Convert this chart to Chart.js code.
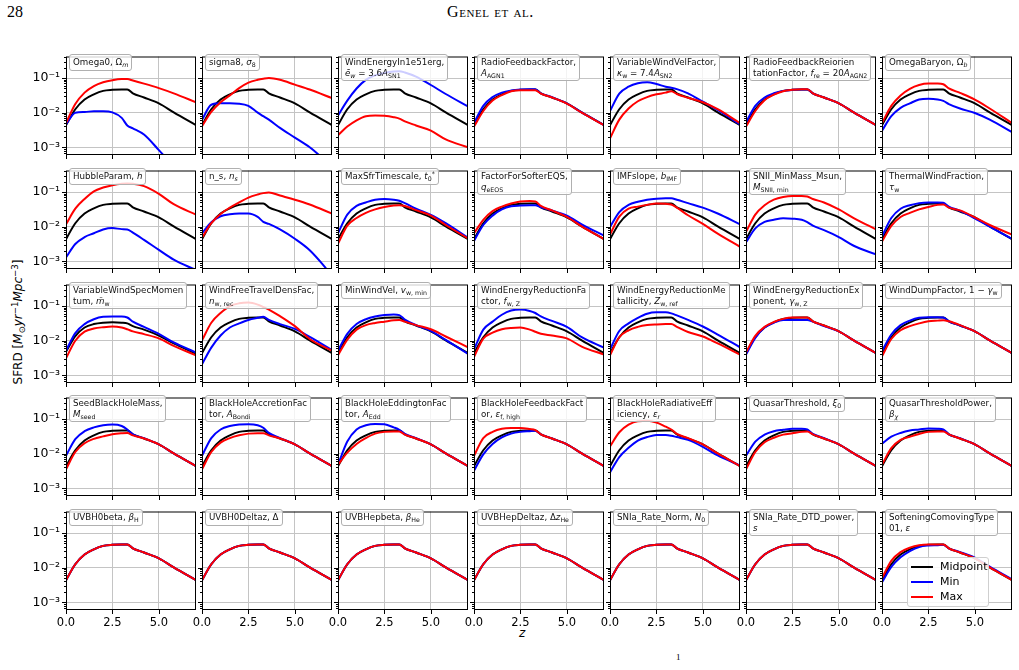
<!DOCTYPE html>
<html>
<head>
<meta charset="utf-8">
<script src="https://cdn.jsdelivr.net/npm/chart.js@4.4.1/dist/chart.umd.min.js"></script>
<style>
  body { margin: 0; background: #fff; }
  #fig { position: relative; width: 1019px; height: 670px; overflow: hidden; font-family: "DejaVu Sans", sans-serif; color: #000; }
  #fig canvas { position: absolute; }
  .tag {
    position: absolute; z-index: 5; font-size: 8.7px; line-height: 10.5px; color: #111;
    padding: 2px 3px 2px 3px; border: 1px solid #b0b0b0; border-radius: 3px;
    background: rgba(255,255,255,0.8); white-space: nowrap;
  }
  .tag sub, .ylab sub { font-size: 0.72em; vertical-align: -0.3em; line-height: 0; }
  .tag sup, .ylab sup { font-size: 0.72em; vertical-align: 0.5em; line-height: 0; }
  .ylab { position: absolute; left: 18px; top: 322px; transform: translate(-50%, -50%) rotate(-90deg); font-size: 12px; white-space: nowrap; }
  .xlab { position: absolute; left: 519px; top: 626px; font-size: 12px; font-style: italic; }
  .head { position: absolute; font-family: "Liberation Serif", serif; font-size: 16px; color: #000; }
  #legend { position: absolute; z-index: 6; left: 907px; top: 557px; width: 80px; height: 48px; border: 1px solid #cfcfcf; border-radius: 3px; background: rgba(255,255,255,0.85); font-size: 11px; }
  #legend div { position: absolute; left: 3px; height: 14px; line-height: 14px; }
  #legend span.sw { display: inline-block; width: 22px; height: 2px; vertical-align: middle; margin-right: 7px; }
</style>
</head>
<body>
<div id="fig">
  <div class="head" style="left:7px; top:3px;">28</div>
  <div class="head" style="left:447px; top:3px; font-variant: small-caps; letter-spacing: 0.6px;">Genel et al.</div>
  <div class="head" style="left:676px; top:652px; font-size:9px;">1</div>
  <div class="ylab">SFRD [<i>M</i><sub>⊙</sub><i>yr</i><sup>−1</sup><i>Mpc</i><sup>−3</sup>]</div>
  <div class="xlab">z</div>
  <div id="legend">
    <div style="top:2px;"><span class="sw" style="background:#000"></span>Midpoint</div>
    <div style="top:17px;"><span class="sw" style="background:#0000ff"></span>Min</div>
    <div style="top:32px;"><span class="sw" style="background:#ff0000"></span>Max</div>
  </div>
</div>
<script>
// redshift sample points, shared by every panel
const redshift = [0, 0.5, 1, 1.5, 2, 2.5, 3, 3.3, 3.6, 4.2, 5, 5.8, 7];

// fiducial run (black in nearly every panel)
const midpoint = [4.37e-3, 1.26e-2, 2.40e-2, 3.39e-2, 4.27e-2, 4.57e-2, 4.68e-2, 4.68e-2, 3.63e-2, 2.75e-2, 1.86e-2, 1.02e-2, 4.37e-3];
const windSpecMomMid = [4.79e-3, 1.35e-2, 2.40e-2, 3.02e-2, 3.31e-2, 3.39e-2, 3.31e-2, 3.16e-2, 2.63e-2, 2.09e-2, 1.41e-2, 8.32e-3, 4.17e-3];

// row 1
const omega0Min = [4.57e-3, 1.0e-2, 1.05e-2, 1.10e-2, 1.10e-2, 1.02e-2, 7.08e-3, 4.27e-3, 3.55e-3, 2.34e-3, 8.3e-4, 2.8e-4, 5e-5];
const omega0Max = [5.0e-3, 1.78e-2, 3.80e-2, 5.89e-2, 7.59e-2, 8.71e-2, 9.33e-2, 9.33e-2, 8.51e-2, 6.92e-2, 5.13e-2, 3.63e-2, 2.0e-2];
const sigma8Min = [6.17e-3, 1.70e-2, 1.86e-2, 1.86e-2, 1.82e-2, 1.58e-2, 1.0e-2, 7.94e-3, 6.31e-3, 3.63e-3, 1.91e-3, 1.0e-3, 2.8e-4];
const sigma8Max = [4.07e-3, 1.05e-2, 2.0e-2, 3.16e-2, 5.13e-2, 7.41e-2, 8.91e-2, 9.55e-2, 0.1, 8.91e-2, 6.46e-2, 4.68e-2, 2.63e-2];
const windEnergyMin = [8.32e-3, 2.24e-2, 5.01e-2, 8.91e-2, 0.120, 0.141, 0.155, 0.158, 0.145, 0.110, 6.31e-2, 3.47e-2, 1.51e-2];
const windEnergyMax = [2.24e-3, 3.98e-3, 6.03e-3, 7.94e-3, 8.32e-3, 8.13e-3, 7.41e-3, 6.76e-3, 5.62e-3, 4.27e-3, 3.02e-3, 1.70e-3, 1.0e-3];
const radioFbMin = [5.01e-3, 1.58e-2, 2.82e-2, 3.80e-2, 4.37e-2, 4.68e-2, 4.79e-2, 4.79e-2, 3.63e-2, 2.82e-2, 1.86e-2, 1.02e-2, 4.37e-3];
const radioFbMax = [3.98e-3, 1.12e-2, 2.24e-2, 3.24e-2, 4.17e-2, 4.47e-2, 4.47e-2, 4.47e-2, 3.55e-2, 2.75e-2, 1.82e-2, 1.0e-2, 4.37e-3];
const windVelMin = [1.12e-2, 3.55e-2, 5.62e-2, 7.08e-2, 7.59e-2, 6.76e-2, 5.62e-2, 5.25e-2, 4.79e-2, 3.63e-2, 2.09e-2, 1.20e-2, 4.57e-3];
const windVelMax = [1.82e-3, 6.31e-3, 1.32e-2, 2.14e-2, 2.82e-2, 3.39e-2, 3.80e-2, 4.17e-2, 3.47e-2, 2.69e-2, 2.0e-2, 1.26e-2, 5.01e-3];
const reorientMin = [5.25e-3, 1.58e-2, 2.75e-2, 3.63e-2, 4.27e-2, 4.57e-2, 4.68e-2, 4.68e-2, 3.63e-2, 2.75e-2, 1.86e-2, 1.02e-2, 4.37e-3];
const reorientMax = [3.98e-3, 1.12e-2, 2.29e-2, 3.31e-2, 4.17e-2, 4.57e-2, 4.79e-2, 4.79e-2, 3.63e-2, 2.75e-2, 1.86e-2, 1.02e-2, 4.37e-3];
const omegaBMin = [3.02e-3, 7.94e-3, 1.38e-2, 1.86e-2, 2.40e-2, 2.51e-2, 2.40e-2, 2.19e-2, 1.78e-2, 1.32e-2, 9.77e-3, 6.31e-3, 2.75e-3];
const omegaBMax = [5.01e-3, 1.58e-2, 3.16e-2, 4.90e-2, 6.31e-2, 6.92e-2, 6.92e-2, 6.61e-2, 5.01e-2, 3.72e-2, 2.40e-2, 1.32e-2, 5.01e-3];

// row 2
const hubbleMin = [1.29e-3, 3.16e-3, 5.01e-3, 6.46e-3, 8.32e-3, 9.12e-3, 8.51e-3, 8.32e-3, 6.76e-3, 4.17e-3, 2.14e-3, 1.12e-3, 5.6e-4];
const hubbleMax = [1.17e-2, 3.31e-2, 6.31e-2, 0.105, 0.135, 0.158, 0.174, 0.178, 0.174, 0.148, 8.91e-2, 4.47e-2, 2.24e-2];
const nsMin = [6.46e-3, 1.35e-2, 2.0e-2, 2.29e-2, 2.40e-2, 2.40e-2, 1.91e-2, 1.38e-2, 1.20e-2, 8.32e-3, 4.47e-3, 2.09e-3, 4.0e-4];
const nsMax = [4.79e-3, 1.26e-2, 2.34e-2, 3.55e-2, 5.01e-2, 6.92e-2, 8.51e-2, 9.33e-2, 9.77e-2, 7.94e-2, 6.03e-2, 4.37e-2, 2.40e-2];
const maxSfrMin = [6.46e-3, 2.24e-2, 3.98e-2, 5.01e-2, 6.03e-2, 6.31e-2, 6.03e-2, 5.62e-2, 4.79e-2, 3.31e-2, 2.19e-2, 1.26e-2, 4.79e-3];
const maxSfrMax = [3.24e-3, 1.07e-2, 1.78e-2, 2.51e-2, 3.16e-2, 3.72e-2, 4.07e-2, 4.17e-2, 3.98e-2, 3.02e-2, 2.09e-2, 1.12e-2, 4.57e-3];
const softerEosMin = [3.89e-3, 1.12e-2, 2.09e-2, 3.16e-2, 3.89e-2, 4.07e-2, 4.17e-2, 4.17e-2, 3.63e-2, 2.95e-2, 2.09e-2, 1.17e-2, 5.50e-3];
const softerEosMax = [6.46e-3, 1.58e-2, 2.82e-2, 3.80e-2, 4.68e-2, 5.37e-2, 5.50e-2, 5.37e-2, 3.98e-2, 2.95e-2, 1.91e-2, 1.02e-2, 4.37e-3];
const imfMin = [9.77e-3, 2.63e-2, 4.27e-2, 5.25e-2, 6.03e-2, 6.46e-2, 6.61e-2, 6.61e-2, 6.03e-2, 4.79e-2, 3.55e-2, 2.40e-2, 1.17e-2];
const imfMax = [5.89e-3, 1.95e-2, 3.31e-2, 3.80e-2, 4.27e-2, 4.68e-2, 4.57e-2, 4.37e-2, 3.55e-2, 2.14e-2, 1.20e-2, 6.31e-3, 2.63e-3];
const snIIMin = [3.55e-3, 8.91e-3, 1.38e-2, 1.58e-2, 1.74e-2, 1.70e-2, 1.58e-2, 1.35e-2, 1.07e-2, 7.94e-3, 5.01e-3, 2.82e-3, 1.58e-3];
const snIIMax = [7.08e-3, 2.24e-2, 4.17e-2, 6.03e-2, 7.24e-2, 7.76e-2, 7.76e-2, 7.41e-2, 6.31e-2, 5.01e-2, 3.16e-2, 1.78e-2, 8.32e-3];
const thermalWindMin = [5.25e-3, 1.78e-2, 3.31e-2, 4.17e-2, 4.79e-2, 5.01e-2, 5.01e-2, 4.90e-2, 3.80e-2, 2.88e-2, 1.74e-2, 1.0e-2, 4.47e-3];
const thermalWindMax = [3.72e-3, 1.05e-2, 1.91e-2, 2.51e-2, 3.16e-2, 3.72e-2, 4.27e-2, 4.37e-2, 3.55e-2, 2.95e-2, 1.86e-2, 1.12e-2, 5.89e-3];

// row 3
const windSpecMomMin = [5.13e-3, 1.66e-2, 3.02e-2, 4.17e-2, 4.90e-2, 5.01e-2, 5.01e-2, 4.68e-2, 3.55e-2, 2.51e-2, 1.58e-2, 8.91e-3, 4.57e-3];
const windSpecMomMax = [3.09e-3, 1.0e-2, 1.82e-2, 2.24e-2, 2.45e-2, 2.57e-2, 2.40e-2, 2.14e-2, 1.86e-2, 1.55e-2, 1.17e-2, 7.08e-3, 3.80e-3];
const windFreeMin = [2.09e-3, 6.31e-3, 1.41e-2, 2.40e-2, 3.16e-2, 3.98e-2, 4.57e-2, 4.90e-2, 3.98e-2, 3.02e-2, 2.19e-2, 1.29e-2, 5.37e-3];
const windFreeMax = [1.02e-2, 3.31e-2, 6.31e-2, 0.1, 0.120, 0.126, 0.110, 9.33e-2, 7.94e-2, 5.13e-2, 2.63e-2, 1.12e-2, 5.13e-3];
const minWindVelMin = [5.13e-3, 1.58e-2, 3.02e-2, 4.17e-2, 5.01e-2, 5.50e-2, 5.75e-2, 5.50e-2, 4.07e-2, 2.82e-2, 1.91e-2, 1.05e-2, 4.17e-3];
const minWindVelMax = [3.80e-3, 1.07e-2, 2.09e-2, 2.82e-2, 3.24e-2, 3.55e-2, 3.89e-2, 3.98e-2, 3.55e-2, 2.82e-2, 2.14e-2, 1.32e-2, 6.46e-3];
const windRedFacMin = [5.62e-3, 2.09e-2, 3.55e-2, 5.62e-2, 7.41e-2, 7.94e-2, 7.24e-2, 6.31e-2, 5.01e-2, 3.72e-2, 2.51e-2, 1.26e-2, 6.31e-3];
const windRedFacMax = [3.39e-3, 1.15e-2, 1.70e-2, 2.14e-2, 2.34e-2, 2.40e-2, 2.09e-2, 1.82e-2, 1.58e-2, 1.41e-2, 1.17e-2, 6.76e-3, 3.98e-3];
const windRedMetMin = [5.62e-3, 1.91e-2, 3.16e-2, 4.57e-2, 6.03e-2, 6.61e-2, 6.61e-2, 6.17e-2, 5.37e-2, 3.98e-2, 2.57e-2, 1.51e-2, 6.46e-3];
const windRedMetMax = [3.80e-3, 1.26e-2, 2.0e-2, 2.51e-2, 2.82e-2, 2.95e-2, 3.02e-2, 3.02e-2, 2.51e-2, 1.78e-2, 1.32e-2, 8.32e-3, 3.98e-3];
const windRedExpMin = [3.98e-3, 1.20e-2, 2.40e-2, 3.31e-2, 3.98e-2, 3.98e-2, 3.98e-2, 3.98e-2, 3.55e-2, 2.63e-2, 1.86e-2, 1.02e-2, 4.37e-3];
const windRedExpMax = [4.57e-3, 1.38e-2, 2.51e-2, 3.47e-2, 4.27e-2, 4.68e-2, 4.68e-2, 4.68e-2, 3.63e-2, 2.75e-2, 1.86e-2, 1.02e-2, 4.37e-3];
const windDumpMin = [5.01e-3, 1.51e-2, 2.82e-2, 3.80e-2, 4.57e-2, 4.79e-2, 4.79e-2, 4.68e-2, 3.63e-2, 2.75e-2, 1.86e-2, 1.02e-2, 4.37e-3];
const windDumpMax = [3.55e-3, 1.12e-2, 2.0e-2, 2.63e-2, 3.16e-2, 3.63e-2, 3.80e-2, 3.89e-2, 3.63e-2, 2.82e-2, 1.86e-2, 1.02e-2, 4.37e-3];

// row 4
const seedBhMin = [8.71e-3, 2.63e-2, 4.47e-2, 5.75e-2, 6.61e-2, 6.92e-2, 6.31e-2, 5.01e-2, 3.63e-2, 2.82e-2, 1.86e-2, 1.02e-2, 4.37e-3];
const seedBhMax = [3.55e-3, 1.12e-2, 2.0e-2, 2.69e-2, 3.16e-2, 3.63e-2, 3.89e-2, 3.98e-2, 3.39e-2, 2.75e-2, 1.86e-2, 1.02e-2, 4.37e-3];
const bhAccMin = [8.71e-3, 2.82e-2, 5.01e-2, 6.31e-2, 6.92e-2, 7.08e-2, 6.61e-2, 5.62e-2, 3.98e-2, 2.82e-2, 1.86e-2, 1.02e-2, 4.37e-3];
const bhAccMax = [3.55e-3, 1.12e-2, 2.09e-2, 2.82e-2, 3.39e-2, 3.80e-2, 3.89e-2, 3.89e-2, 3.39e-2, 2.75e-2, 1.86e-2, 1.02e-2, 4.37e-3];
const bhEddMin = [4.79e-3, 2.24e-2, 5.01e-2, 6.61e-2, 7.24e-2, 7.08e-2, 5.75e-2, 4.90e-2, 3.72e-2, 2.82e-2, 1.86e-2, 1.02e-2, 4.37e-3];
const bhEddMax = [4.79e-3, 1.07e-2, 1.91e-2, 2.82e-2, 3.80e-2, 4.27e-2, 4.37e-2, 4.37e-2, 3.55e-2, 2.75e-2, 1.86e-2, 1.02e-2, 4.37e-3];
const bhFbMin = [3.24e-3, 9.55e-3, 1.91e-2, 2.95e-2, 3.80e-2, 4.27e-2, 4.47e-2, 4.57e-2, 3.63e-2, 2.75e-2, 1.86e-2, 1.02e-2, 4.37e-3];
const bhFbMax = [8.71e-3, 2.82e-2, 4.27e-2, 5.25e-2, 5.50e-2, 5.50e-2, 5.13e-2, 4.79e-2, 3.63e-2, 2.75e-2, 1.86e-2, 1.02e-2, 4.37e-3];
const bhRadMin = [2.88e-3, 7.94e-3, 1.48e-2, 2.40e-2, 3.02e-2, 3.47e-2, 3.47e-2, 3.31e-2, 3.02e-2, 2.51e-2, 1.58e-2, 8.91e-3, 4.57e-3];
const bhRadMax = [1.62e-2, 4.17e-2, 6.92e-2, 8.71e-2, 8.91e-2, 7.94e-2, 6.03e-2, 5.01e-2, 3.72e-2, 2.82e-2, 1.86e-2, 1.02e-2, 4.37e-3];
const quasarMin = [8.71e-3, 2.24e-2, 3.55e-2, 4.47e-2, 4.90e-2, 5.25e-2, 5.25e-2, 5.01e-2, 3.72e-2, 2.82e-2, 1.86e-2, 1.02e-2, 4.37e-3];
const quasarMax = [3.55e-3, 1.12e-2, 2.14e-2, 2.88e-2, 3.55e-2, 3.89e-2, 4.27e-2, 4.37e-2, 3.63e-2, 2.75e-2, 1.86e-2, 1.02e-2, 4.37e-3];
const quasarPowMin = [1.95e-2, 3.09e-2, 3.98e-2, 4.68e-2, 5.01e-2, 5.37e-2, 5.25e-2, 5.01e-2, 3.63e-2, 2.82e-2, 1.86e-2, 1.02e-2, 4.37e-3];
const quasarPowMax = [4.79e-3, 1.45e-2, 2.51e-2, 3.09e-2, 3.72e-2, 4.27e-2, 4.37e-2, 4.37e-2, 3.63e-2, 2.75e-2, 1.86e-2, 1.02e-2, 4.37e-3];

// row 5 (UVB / SNIa runs sit on the midpoint)
const softeningMin = [3.80e-3, 1.05e-2, 2.0e-2, 3.02e-2, 3.98e-2, 4.37e-2, 4.47e-2, 4.57e-2, 3.63e-2, 2.82e-2, 1.95e-2, 1.07e-2, 4.57e-3];
const softeningMax = [5.01e-3, 1.58e-2, 2.82e-2, 3.80e-2, 4.47e-2, 4.68e-2, 4.68e-2, 4.68e-2, 3.63e-2, 2.75e-2, 1.86e-2, 1.02e-2, 4.37e-3];

const panelLabels = [
  'Omega0, Ω<sub><i>m</i></sub>', 'sigma8, <i>σ</i><sub>8</sub>',
  'WindEnergyIn1e51erg,<br><i>ē<sub>w</sub></i> = 3.6<i>A</i><sub>SN1</sub>',
  'RadioFeedbackFactor,<br><i>A</i><sub>AGN1</sub>',
  'VariableWindVelFactor,<br><i>κ</i><sub>w</sub> = 7.4<i>A</i><sub>SN2</sub>',
  'RadioFeedbackReiorien<br>tationFactor, <i>f</i><sub>re</sub> = 20<i>A</i><sub>AGN2</sub>',
  'OmegaBaryon, Ω<sub><i>b</i></sub>',
  'HubbleParam, <i>h</i>', 'n_s, <i>n<sub>s</sub></i>', 'MaxSfrTimescale, <i>t</i><sub>0</sub><sup>*</sup>',
  'FactorForSofterEQS,<br><i>q</i><sub>eEOS</sub>', 'IMFslope, <i>b</i><sub>IMF</sub>',
  'SNII_MinMass_Msun,<br><i>M</i><sub>SNII, min</sub>', 'ThermalWindFraction,<br><i>τ</i><sub>w</sub>',
  'VariableWindSpecMomen<br>tum, <i>m̄</i><sub>w</sub>', 'WindFreeTravelDensFac,<br><i>n</i><sub>w, rec</sub>',
  'MinWindVel, <i>v</i><sub>w, min</sub>', 'WindEnergyReductionFa<br>ctor, <i>f</i><sub>w, Z</sub>',
  'WindEnergyReductionMe<br>tallicity, <i>Z</i><sub>w, ref</sub>', 'WindEnergyReductionEx<br>ponent, <i>γ</i><sub>w, Z</sub>',
  'WindDumpFactor, 1 − <i>γ</i><sub>w</sub>',
  'SeedBlackHoleMass,<br><i>M</i><sub>seed</sub>', 'BlackHoleAccretionFac<br>tor, <i>A</i><sub>Bondi</sub>',
  'BlackHoleEddingtonFac<br>tor, <i>A</i><sub>Edd</sub>', 'BlackHoleFeedbackFact<br>or, <i>ε</i><sub>f, high</sub>',
  'BlackHoleRadiativeEff<br>iciency, <i>ε<sub>r</sub></i>', 'QuasarThreshold, <i>ξ</i><sub>0</sub>',
  'QuasarThresholdPower,<br><i>β<sub>χ</sub></i>',
  'UVBH0beta, <i>β</i><sub>H</sub>', 'UVBH0Deltaz, Δ', 'UVBHepbeta, <i>β</i><sub>He</sub>',
  'UVBHepDeltaz, Δ<i>z</i><sub>He</sub>', 'SNIa_Rate_Norm, <i>N</i><sub>0</sub>',
  'SNIa_Rate_DTD_power,<br><i>s</i>', 'SofteningComovingType<br>01, <i>ε</i>'
];

const panelMin = [
  omega0Min, sigma8Min, windEnergyMin, radioFbMin, windVelMin, reorientMin, omegaBMin,
  hubbleMin, nsMin, maxSfrMin, softerEosMin, imfMin, snIIMin, thermalWindMin,
  windSpecMomMin, windFreeMin, minWindVelMin, windRedFacMin, windRedMetMin, windRedExpMin, windDumpMin,
  seedBhMin, bhAccMin, bhEddMin, bhFbMin, bhRadMin, quasarMin, quasarPowMin,
  midpoint, midpoint, midpoint, midpoint, midpoint, midpoint, softeningMin
];
const panelMax = [
  omega0Max, sigma8Max, windEnergyMax, radioFbMax, windVelMax, reorientMax, omegaBMax,
  hubbleMax, nsMax, maxSfrMax, softerEosMax, imfMax, snIIMax, thermalWindMax,
  windSpecMomMax, windFreeMax, minWindVelMax, windRedFacMax, windRedMetMax, windRedExpMax, windDumpMax,
  seedBhMax, bhAccMax, bhEddMax, bhFbMax, bhRadMax, quasarMax, quasarPowMax,
  midpoint, midpoint, midpoint, midpoint, midpoint, midpoint, softeningMax
];

const xTicks = [0, 2.5, 5];
const xTickLabels = ['0.0', '2.5', '5.0'];
const yMajorTicks = [1e-3, 1e-2, 1e-1];
const yTickLabels = ['10⁻³', '10⁻²', '10⁻¹'];
const yMin = 6.2e-4, yMax = 0.42;

// minor log ticks 2..9 x decade inside the axis range
const yAllTicks = [];
[1e-4, 1e-3, 1e-2, 1e-1].forEach(d => {
  for (let m = 1; m <= 9; m++) {
    const v = +(m * d).toPrecision(3);
    if (v >= yMin && v <= yMax) yAllTicks.push(v);
  }
});
const majorIndex = v => yMajorTicks.findIndex(t => Math.abs(t - v) / t < 1e-6);

Chart.defaults.font.family = '"DejaVu Sans", sans-serif';
Chart.defaults.color = '#000';

const axesFrame = {
  id: 'axesFrame',
  afterDraw(chart) {
    const { ctx, chartArea: a, scales: { x, y } } = chart;
    ctx.save();
    ctx.strokeStyle = '#000';
    ctx.lineWidth = 1;
    ctx.beginPath();
    xTicks.forEach(v => {
      const px = Math.round(x.getPixelForValue(v)) + 0.5;
      ctx.moveTo(px, a.bottom);
      ctx.lineTo(px, a.bottom + 4);
    });
    yAllTicks.forEach(v => {
      const py = Math.round(y.getPixelForValue(v)) + 0.5;
      ctx.moveTo(a.left, py);
      ctx.lineTo(a.left - (majorIndex(v) >= 0 ? 4 : 2), py);
    });
    ctx.stroke();
    ctx.strokeRect(a.left + 0.5, a.top + 0.5, a.right - a.left - 1, a.bottom - a.top - 1);
    ctx.restore();
  }
};

const fig = document.getElementById('fig');
const rowTops = [47, 161, 275, 388, 502];
const colLefts = [66, 202, 338, 474, 610, 746, 882];
const padL = 60, padT = 4, padR = 4, padB = 30;

panelLabels.forEach((label, i) => {
  const row = Math.floor(i / 7), col = i % 7;
  const px = colLefts[col], py = rowTops[row];

  const cv = document.createElement('canvas');
  cv.width = 130 + padL + padR;
  cv.height = 108 + padT + padB;
  cv.style.left = (px - padL) + 'px';
  cv.style.top = (py - padT) + 'px';
  fig.appendChild(cv);

  const tag = document.createElement('div');
  tag.className = 'tag';
  tag.style.left = (px + 3) + 'px';
  tag.style.top = (py + 7) + 'px';
  tag.innerHTML = label;
  fig.appendChild(tag);

  const mid = i === 14 ? windSpecMomMid : midpoint;
  const pts = arr => arr.map((v, k) => ({ x: redshift[k], y: v }));
  const line = (name, data, color, order) => ({
    label: name, data: pts(data), borderColor: color, backgroundColor: color,
    borderWidth: 2, pointRadius: 0, cubicInterpolationMode: 'monotone', order
  });

  new Chart(cv, {
    type: 'line',
    data: {
      datasets: [
        line('Midpoint', mid, '#000000', 3),
        line('Min', panelMin[i], '#0000ff', 2),
        line('Max', panelMax[i], '#ff0000', 1)
      ]
    },
    options: {
      responsive: false,
      devicePixelRatio: 1,
      animation: false,
      layout: { padding: { top: padT, right: padR, left: 0, bottom: 0 } },
      plugins: { legend: { display: false }, tooltip: { enabled: false } },
      scales: {
        x: {
          type: 'linear', min: 0, max: 7,
          afterBuildTicks: s => { s.ticks = xTicks.map(v => ({ value: v })); },
          afterFit: s => { s.height = padB; },
          border: { display: false },
          grid: { color: '#c4c4c4', lineWidth: 1, drawTicks: false },
          ticks: {
            autoSkip: false, maxRotation: 0, padding: 6, font: { size: 11.5 },
            callback: (v, k) => row === 4 ? xTickLabels[k] : ''
          }
        },
        y: {
          type: 'logarithmic', min: yMin, max: yMax,
          afterBuildTicks: s => { s.ticks = yAllTicks.map(v => ({ value: v })); },
          afterFit: s => { s.width = padL; },
          border: { display: false },
          grid: {
            drawTicks: false, lineWidth: 1,
            color: c => (c.tick && majorIndex(c.tick.value) >= 0) ? '#c4c4c4' : 'rgba(0,0,0,0)'
          },
          ticks: {
            autoSkip: false, padding: 6, font: { size: 12.5 },
            callback: v => {
              const m = majorIndex(v);
              return (col === 0 && m >= 0) ? yTickLabels[m] : '';
            }
          }
        }
      }
    },
    plugins: [axesFrame]
  });
});
</script>
</body>
</html>
